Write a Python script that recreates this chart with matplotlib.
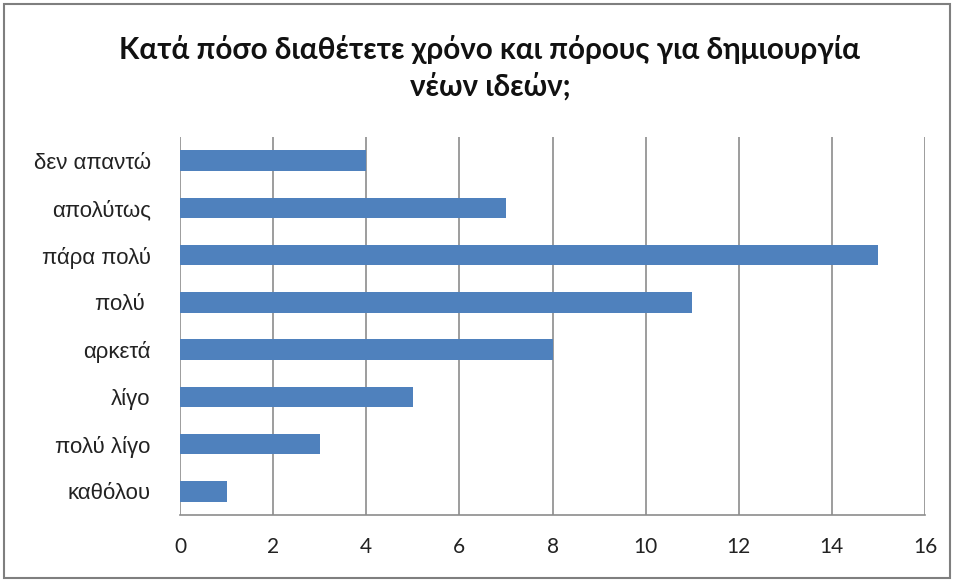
import matplotlib
matplotlib.use("Agg")
import matplotlib.pyplot as plt
from matplotlib.patches import Rectangle

categories = ["καθόλου", "πολύ λίγο", "λίγο", "αρκετά", "πολύ ", "πάρα πολύ", "απολύτως", "δεν απαντώ"]
values = [1, 3, 5, 8, 11, 15, 7, 4]
x_ticks = [0, 2, 4, 6, 8, 10, 12, 14, 16]
title = "Κατά πόσο διαθέτετε χρόνο και πόρους για δημιουργία\nνέων ιδεών;"

W, H = 954, 581
fig = plt.figure(figsize=(W / 100, H / 100), dpi=100)
ax = fig.add_axes([180 / W, 1 - 515 / H, (925 - 180) / W, (515 - 137) / H])

ax.barh(range(len(categories)), values, height=0.43, color="#4F81BD", zorder=3)
ax.set_xlim(0, 16)
ax.set_ylim(-0.5, len(categories) - 0.5)
ax.set_xticks(x_ticks)
ax.set_xticklabels([str(t) for t in x_ticks], family="Lato", fontsize=15, color="#222222")
ax.set_yticks(range(len(categories)))
ax.set_yticklabels(categories, family="Liberation Sans", fontsize=16, color="#222222")
ax.tick_params(axis="both", length=0)
ax.tick_params(axis="x", pad=16)
ax.tick_params(axis="y", pad=21)

ax.grid(axis="x", color="#8c8c8c", linewidth=1.2, zorder=0)
for side in ["top", "right", "left"]:
    ax.spines[side].set_visible(False)
ax.spines["bottom"].set_color("#8c8c8c")
ax.spines["bottom"].set_linewidth(1.2)

fig.text(490 / W, 1 - 68 / H, title, ha="center", va="center", family="Lato",
         fontweight="bold", fontsize=21.3, linespacing=1.35, color="#111111")

fig.patches.append(Rectangle((4 / W, 3 / H), 946 / W, 574 / H, transform=fig.transFigure,
                             fill=False, edgecolor="#7f7f7f", linewidth=1.5))

fig.savefig("out.png", dpi=100)
